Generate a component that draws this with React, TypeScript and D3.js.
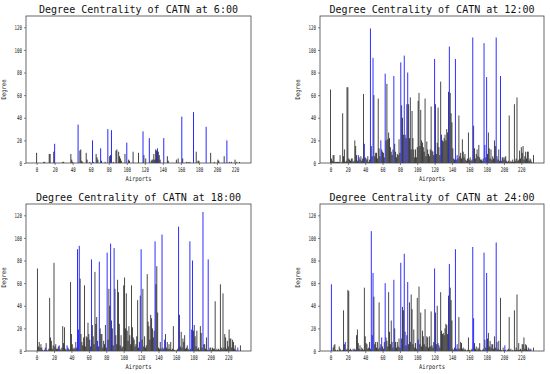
import React, { useEffect, useRef } from 'react';
import * as d3 from 'd3';

// degree of each airport (index = airport id)
const degree6 = [
  9, 0, 0, 0, 0, 0, 0, 0, 1, 1,
  0, 0, 0, 0, 8, 8, 0, 0, 0, 10,
  17, 0, 0, 0, 0, 0, 0, 0, 0, 1,
  1, 0, 0, 0, 0, 0, 0, 0, 8, 3,
  1, 0, 0, 0, 0, 0, 34, 0, 11, 12,
  2, 1, 0, 0, 0, 9, 3, 0, 0, 1,
  0, 0, 20, 1, 0, 0, 8, 5, 3, 0,
  0, 13, 2, 0, 0, 0, 1, 0, 0, 30,
  0, 6, 7, 29, 0, 1, 0, 0, 11, 12,
  0, 10, 6, 4, 2, 0, 0, 0, 8, 0,
  18, 0, 3, 2, 0, 0, 0, 10, 0, 0,
  0, 0, 0, 9, 0, 0, 0, 0, 28, 7,
  0, 4, 0, 0, 0, 22, 0, 2, 3, 3,
  8, 3, 12, 11, 13, 10, 7, 3, 0, 0,
  0, 22, 0, 0, 0, 6, 2, 0, 0, 0,
  0, 0, 0, 0, 0, 3, 0, 4, 0, 0,
  0, 41, 4, 0, 0, 0, 1, 0, 1, 0,
  1, 0, 0, 0, 45, 0, 0, 10, 0, 2,
  2, 0, 0, 0, 0, 0, 0, 0, 32, 0,
  0, 0, 0, 9, 0, 0, 0, 1, 0, 0,
  0, 3, 2, 0, 0, 0, 0, 0, 6, 0,
  0, 20, 0, 0, 1, 0, 1, 0, 0, 0,
  3, 0, 1, 0, 0, 1, 0,
];
const hubs6 = [20, 46, 62, 71, 79, 83, 100, 118, 125, 134, 141, 161, 174, 188, 211];

const degree12 = [
  65, 4, 2, 7, 7, 1, 1, 1, 1, 1,
  1, 7, 0, 1, 44, 6, 12, 1, 2, 67,
  67, 4, 3, 2, 4, 4, 1, 2, 20, 15,
  7, 2, 7, 5, 3, 6, 2, 4, 61, 17,
  5, 4, 3, 6, 1, 3, 119, 15, 6, 93,
  60, 6, 9, 9, 4, 57, 13, 6, 20, 12,
  10, 9, 5, 79, 20, 70, 21, 27, 22, 14,
  10, 7, 12, 77, 17, 10, 5, 8, 7, 21,
  9, 89, 51, 40, 25, 95, 25, 22, 52, 80,
  52, 22, 58, 12, 46, 22, 12, 5, 12, 5,
  14, 55, 62, 15, 47, 20, 18, 14, 10, 57,
  6, 19, 12, 8, 6, 12, 50, 11, 10, 7,
  92, 52, 8, 18, 49, 14, 7, 72, 25, 20,
  19, 22, 25, 20, 30, 27, 63, 103, 62, 44,
  36, 13, 4, 3, 92, 3, 7, 4, 42, 6,
  9, 4, 21, 10, 5, 8, 3, 2, 4, 27,
  3, 5, 2, 3, 111, 33, 13, 4, 8, 12,
  6, 16, 5, 3, 3, 2, 4, 106, 16, 5,
  76, 8, 27, 13, 4, 12, 3, 6, 4, 20,
  15, 111, 6, 3, 12, 2, 77, 2, 5, 5,
  3, 5, 6, 2, 1, 2, 42, 1, 2, 1,
  3, 1, 52, 2, 4, 58, 2, 3, 11, 4,
  14, 9, 15, 3, 6, 10, 4, 10, 10, 2,
  4, 3, 1, 0, 7,
];
const hubs12 = [32, 39, 46, 49, 58, 63, 73, 81, 85, 89, 120, 128, 137, 144, 146, 164, 177, 178, 180, 191, 196];

const degree18 = [
  0, 73, 4, 8, 3, 6, 3, 1, 0, 1,
  3, 7, 1, 0, 2, 47, 12, 9, 2, 5,
  78, 4, 6, 2, 2, 4, 5, 2, 1, 3,
  22, 7, 21, 2, 1, 5, 3, 2, 1, 61,
  15, 6, 2, 3, 2, 8, 3, 90, 19, 93,
  64, 15, 8, 5, 12, 58, 4, 13, 12, 25,
  15, 10, 4, 81, 23, 13, 6, 70, 24, 30,
  9, 4, 79, 20, 15, 15, 3, 9, 6, 23,
  3, 87, 10, 55, 40, 95, 27, 20, 5, 91,
  55, 14, 6, 63, 52, 24, 5, 14, 3, 4,
  58, 65, 20, 51, 18, 9, 22, 14, 6, 58,
  21, 12, 10, 4, 6, 13, 45, 3, 8, 49,
  90, 10, 55, 4, 13, 3, 5, 68, 26, 22,
  10, 32, 29, 20, 12, 18, 97, 59, 75, 34,
  3, 2, 8, 2, 103, 3, 2, 10, 15, 3,
  8, 2, 6, 2, 8, 1, 2, 22, 1, 1,
  0, 1, 2, 110, 32, 4, 17, 3, 11, 8,
  14, 2, 3, 5, 2, 1, 97, 2, 19, 80,
  18, 23, 13, 4, 18, 2, 3, 1, 22, 16,
  3, 123, 6, 6, 2, 12, 1, 81, 1, 3,
  3, 1, 3, 2, 2, 44, 1, 2, 1, 2,
  1, 59, 3, 2, 51, 3, 15, 12, 2, 9,
  4, 19, 11, 11, 3, 10, 8, 2, 5, 1,
  0, 3, 0, 0, 5,
];
const hubs18 = [10, 26, 35, 47, 48, 49, 63, 70, 72, 81, 85, 89, 118, 120, 136, 144, 147, 163, 176, 178, 179, 191, 197, 231];

const degree24 = [
  0, 59, 0, 3, 5, 6, 1, 0, 1, 0,
  4, 2, 1, 0, 1, 36, 6, 8, 1, 2,
  54, 53, 1, 2, 1, 0, 2, 1, 2, 1,
  14, 19, 7, 2, 5, 1, 3, 2, 1, 56,
  13, 7, 6, 2, 3, 8, 2, 106, 14, 69,
  48, 6, 8, 3, 8, 2, 43, 3, 6, 12,
  4, 2, 8, 60, 12, 9, 4, 52, 17, 6,
  27, 8, 3, 63, 20, 8, 3, 8, 4, 11,
  3, 78, 11, 39, 36, 86, 17, 5, 14, 61,
  6, 43, 8, 50, 37, 6, 19, 3, 7, 2,
  47, 10, 57, 6, 34, 4, 18, 13, 6, 37,
  4, 13, 12, 3, 13, 4, 35, 5, 3, 8,
  73, 34, 6, 40, 7, 5, 3, 52, 18, 15,
  16, 14, 20, 24, 23, 15, 49, 77, 56, 45,
  27, 2, 1, 3, 90, 2, 6, 2, 30, 2,
  8, 7, 2, 3, 1, 2, 1, 0, 1, 12,
  1, 0, 1, 2, 92, 29, 7, 2, 4, 1,
  3, 2, 7, 1, 0, 1, 2, 87, 10, 3,
  69, 11, 16, 4, 9, 3, 6, 6, 2, 13,
  3, 96, 8, 2, 9, 1, 47, 1, 0, 3,
  1, 5, 1, 0, 1, 2, 30, 1, 2, 0,
  1, 0, 36, 1, 3, 50, 1, 7, 1, 2,
  1, 6, 6, 12, 2, 6, 5, 1, 3, 2,
  1, 2, 0, 0, 3,
];
const hubs24 = [1, 17, 28, 47, 48, 49, 59, 63, 73, 81, 85, 89, 101, 120, 124, 137, 144, 146, 164, 165, 177, 180, 191, 201, 229];

const hours = ['6:00', '12:00', '18:00', '24:00'];
const yTicks = [0, 20, 40, 60, 80, 100, 120];
const xTicks = [0, 20, 40, 60, 80, 100, 120, 140, 160, 180, 200, 220];

const snapshots = [
  { hour: hours[0], values: degree6, hubs: hubs6 },
  { hour: hours[1], values: degree12, hubs: hubs12 },
  { hour: hours[2], values: degree18, hubs: hubs18 },
  { hour: hours[3], values: degree24, hubs: hubs24 },
];

const App = () => {
  const svgRef = useRef<SVGSVGElement>(null);

  useEffect(() => {
    const svg = d3.select(svgRef.current);
    svg.selectAll('*').remove();

    // plot boxes, 2x2 grid
    const boxes = [
      { x: 26, y: 16, w: 225, h: 147 },
      { x: 320, y: 16, w: 224, h: 147 },
      { x: 26, y: 204, w: 225, h: 147 },
      { x: 320, y: 204, w: 224, h: 147 },
    ];
    const font = 'DejaVu Sans Mono, monospace';

    snapshots.forEach((snap, k) => {
      const box = boxes[k];
      const g = svg.append('g').attr('transform', `translate(${box.x},${box.y})`);
      const n = snap.values.length;
      const pad = 0.05 * (n - 1 + 0.8);

      const x = d3.scaleLinear().domain([-0.4 - pad, n - 0.6 + pad]).range([0, box.w]);
      const y = d3.scaleLinear().domain([0, 130]).range([box.h, 0]);
      const barW = x(1.1) - x(0);

      const rows = snap.values
        .map((v, i) => ({ i, v, hub: snap.hubs.includes(i) }))
        .filter((d) => d.v > 0);

      // black bars first, hubs on top
      rows.sort((a, b) => Number(a.hub) - Number(b.hub));

      g.selectAll('rect.bar')
        .data(rows)
        .enter()
        .append('rect')
        .attr('class', 'bar')
        .attr('x', (d) => x(d.i) - barW / 2)
        .attr('width', barW)
        .attr('y', (d) => y(d.v))
        .attr('height', (d) => y(0) - y(d.v))
        .attr('fill', (d) => (d.hub ? '#0000ff' : '#000000'))
        .attr('fill-opacity', (d) => (d.hub ? 0.85 : 0.75));

      const xAxis = d3.axisBottom(x).tickValues(xTicks).tickSize(2).tickPadding(2);
      const yAxis = d3.axisLeft(y).tickValues(yTicks).tickSize(2).tickPadding(2);

      const gx = g.append('g').attr('transform', `translate(0,${box.h})`).call(xAxis);
      const gy = g.append('g').call(yAxis);
      [gx, gy].forEach((ax) => {
        ax.select('.domain').remove();
        ax.selectAll('line').attr('stroke', '#333').attr('stroke-width', 0.6);
        ax.selectAll('text')
          .attr('font-size', 6.5)
          .attr('font-family', font)
          .attr('fill', '#222')
          .attr('lengthAdjust', 'spacingAndGlyphs')
          .attr('textLength', (d: any) => String(d).length * 2.5);
      });

      // frame
      g.append('rect')
        .attr('width', box.w)
        .attr('height', box.h)
        .attr('fill', 'none')
        .attr('stroke', '#444')
        .attr('stroke-width', 0.8);

      g.append('text')
        .attr('x', box.w / 2)
        .attr('y', -3.5)
        .attr('text-anchor', 'middle')
        .attr('font-family', font)
        .attr('font-size', 10.5)
        .attr('textLength', 199 + (snap.hour.length - 4) * 6)
        .attr('lengthAdjust', 'spacingAndGlyphs')
        .attr('fill', '#111')
        .text(`Degree Centrality of CATN at ${snap.hour}`);

      g.append('text')
        .attr('x', box.w / 2)
        .attr('y', box.h + 18)
        .attr('text-anchor', 'middle')
        .attr('font-family', font)
        .attr('font-size', 6.5)
        .attr('textLength', 26)
        .attr('lengthAdjust', 'spacingAndGlyphs')
        .attr('fill', '#222')
        .text('Airports');

      g.append('text')
        .attr('transform', `translate(-20,${box.h / 2}) rotate(-90)`)
        .attr('text-anchor', 'middle')
        .attr('font-family', font)
        .attr('font-size', 6.5)
        .attr('textLength', 20)
        .attr('lengthAdjust', 'spacingAndGlyphs')
        .attr('fill', '#222')
        .text('Degree');
    });
  }, []);

  return (
    <svg
      ref={svgRef}
      width={550}
      height={374}
      style={{ position: 'absolute', left: 0, top: 0, background: '#fff' }}
    />
  );
};

export default App;
